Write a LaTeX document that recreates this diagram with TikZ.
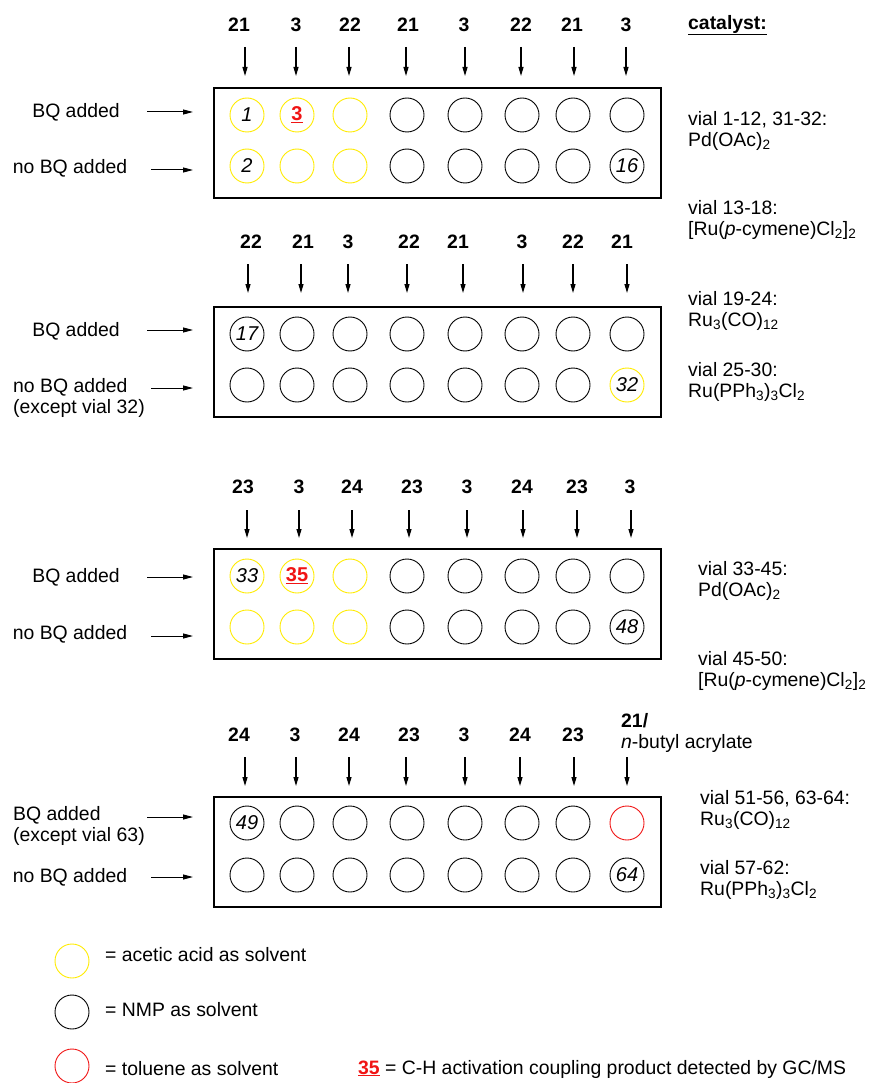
\documentclass[tikz,border=0pt]{standalone}
\usepackage{fontspec}
\setmainfont{Liberation Sans}
\usetikzlibrary{arrows.meta}
\definecolor{yellowc}{RGB}{255,235,0}
\definecolor{redc}{RGB}{240,20,20}
\newcommand{\redno}[1]{\textcolor{redc}{\bfseries\upshape\underline{#1}}}
\begin{document}
\begin{tikzpicture}[x=1pt,y=-1pt,
  every node/.style={font=\fontsize{19.4}{21}\selectfont, inner sep=0pt},
  num/.style={font=\fontsize{19.4}{21}\selectfont\bfseries},
  vial/.style={draw=black, circle, minimum size=34pt, line width=0.9pt, font=\fontsize{20}{21}\selectfont\itshape},
  yv/.style={vial, draw=yellowc},
  rv/.style={vial, draw=redc},
  kv/.style={vial},
  plate/.style={draw, line width=1.1pt, minimum width=447pt, minimum height=110pt},
  down/.style={-{Triangle[length=9pt,width=5pt]}, line width=1.2pt},
  feed/.style={-{Triangle[length=10pt,width=5pt]}, line width=1pt},
  two/.style={align=left, anchor=west},
]
\useasboundingbox (0,0) rectangle (870,1083);

% ---------------- block 1 ----------------
\node[plate] (p1) at (437.5,143) {};
\foreach \lx/\t/\ax [count=\i] in {239/21/245,296/3/296,350/22/349,408/21/406,464/3/465,521/22/521,572/21/574,626/3/626}{
  \node[num] (l1\i) at (\lx,25) {\t};
  \coordinate (s1\i) at (\ax,47); \coordinate (e1\i) at (\ax,76);
  \draw[down] (s1\i) -- (e1\i);
}
\foreach \x/\s/\t [count=\i] in {247/yv/1,297/yv/{\redno{3}},350/yv/{},407/kv/{},465/kv/{},522/kv/{},573/kv/{},627/kv/{}}
  \node[\s] (v1a\i) at (\x,115) {\t};
\foreach \x/\s/\t [count=\i] in {247/yv/2,297/yv/{},350/yv/{},407/kv/{},465/kv/{},522/kv/{},573/kv/{},627/kv/16}
  \node[\s] (v1b\i) at (\x,166) {\t};
\node (bq1) at (76,112) {BQ added};
\coordinate (h1s) at (147,112); \coordinate (h1e) at (193,112);
\draw[feed] (h1s) -- (h1e);
\node (nbq1) at (70,168) {no BQ added};
\coordinate (h2s) at (151,170); \coordinate (h2e) at (193,170);
\draw[feed] (h2s) -- (h2e);

% ---------------- block 2 ----------------
\node[plate] (p2) at (437.5,362) {};
\foreach \lx/\t/\ax [count=\i] in {251/22/248,303/21/301,348/3/348,409/22/407,458/21/463,522/3/523,573/22/573,622/21/627}{
  \node[num] (l2\i) at (\lx,242) {\t};
  \coordinate (s2\i) at (\ax,264); \coordinate (e2\i) at (\ax,293);
  \draw[down] (s2\i) -- (e2\i);
}
\foreach \x/\s/\t [count=\i] in {247/kv/17,297/kv/{},350/kv/{},407/kv/{},465/kv/{},522/kv/{},573/kv/{},627/kv/{}}
  \node[\s] (v2a\i) at (\x,334) {\t};
\foreach \x/\s/\t [count=\i] in {247/kv/{},297/kv/{},350/kv/{},407/kv/{},465/kv/{},522/kv/{},573/kv/{},627/yv/32}
  \node[\s] (v2b\i) at (\x,385) {\t};
\node (bq2) at (76,331) {BQ added};
\coordinate (h3s) at (147,330); \coordinate (h3e) at (193,330);
\draw[feed] (h3s) -- (h3e);
\node[two] (nbq2) at (13,398) {no BQ added\\(except vial 32)};
\coordinate (h4s) at (151,388); \coordinate (h4e) at (193,388);
\draw[feed] (h4s) -- (h4e);

% ---------------- block 3 ----------------
\node[plate] (p3) at (437.5,604) {};
\foreach \lx/\t/\ax [count=\i] in {243/23/247,299/3/299,352/24/352,412/23/409,467/3/467,522/24/523,577/23/577,630/3/631}{
  \node[num] (l3\i) at (\lx,487) {\t};
  \coordinate (s3\i) at (\ax,510); \coordinate (e3\i) at (\ax,538);
  \draw[down] (s3\i) -- (e3\i);
}
\foreach \x/\s/\t [count=\i] in {247/yv/33,297/yv/{\redno{35}},350/yv/{},407/kv/{},465/kv/{},522/kv/{},573/kv/{},627/kv/{}}
  \node[\s] (v3a\i) at (\x,576) {\t};
\foreach \x/\s/\t [count=\i] in {247/yv/{},297/yv/{},350/yv/{},407/kv/{},465/kv/{},522/kv/{},573/kv/{},627/kv/48}
  \node[\s] (v3b\i) at (\x,627) {\t};
\node (bq3) at (76,577) {BQ added};
\coordinate (h5s) at (147,577); \coordinate (h5e) at (193,577);
\draw[feed] (h5s) -- (h5e);
\node (nbq3) at (70,634) {no BQ added};
\coordinate (h6s) at (151,636); \coordinate (h6e) at (193,636);
\draw[feed] (h6s) -- (h6e);

% ---------------- block 4 ----------------
\node[plate] (p4) at (437.5,852) {};
\foreach \lx/\t/\ax [count=\i] in {239/24/245,295/3/296,349/24/349,409/23/406,464/3/465,520/24/520,573/23/574}{
  \node[num] (l4\i) at (\lx,735) {\t};
  \coordinate (s4\i) at (\ax,757); \coordinate (e4\i) at (\ax,786);
  \draw[down] (s4\i) -- (e4\i);
}
\node[two] (l48) at (621,733) {\textbf{21/}\\\textit{n}-butyl acrylate};
\coordinate (s48) at (627,757); \coordinate (e48) at (627,786);
\draw[down] (s48) -- (e48);
\foreach \x/\s/\t [count=\i] in {247/kv/49,297/kv/{},350/kv/{},407/kv/{},465/kv/{},522/kv/{},573/kv/{},627/rv/{}}
  \node[\s] (v4a\i) at (\x,823) {\t};
\foreach \x/\s/\t [count=\i] in {247/kv/{},297/kv/{},350/kv/{},407/kv/{},465/kv/{},522/kv/{},573/kv/{},627/kv/64}
  \node[\s] (v4b\i) at (\x,875) {\t};
\node[two] (bq4) at (13,826) {BQ added\\(except vial 63)};
\coordinate (h7s) at (147,817); \coordinate (h7e) at (193,817);
\draw[feed] (h7s) -- (h7e);
\node (nbq4) at (70,877) {no BQ added};
\coordinate (h8s) at (151,877); \coordinate (h8e) at (193,877);
\draw[feed] (h8s) -- (h8e);

% ---------------- catalysts ----------------
\node[anchor=west] (cat) at (688,25) {\textbf{\underline{catalyst:}}};
\node[two] (c1) at (688,131) {vial 1-12, 31-32:\\Pd(OAc)\textsubscript{2}};
\node[two] (c2) at (688,220) {vial 13-18:\\{[}Ru(\textit{p}-cymene)Cl\textsubscript{2}]\textsubscript{2}};
\node[two] (c3) at (688,311) {vial 19-24:\\Ru\textsubscript{3}(CO)\textsubscript{12}};
\node[two] (c4) at (688,382) {vial 25-30:\\Ru(PPh\textsubscript{3})\textsubscript{3}Cl\textsubscript{2}};
\node[two] (c5) at (698,581) {vial 33-45:\\Pd(OAc)\textsubscript{2}};
\node[two] (c6) at (698,671) {vial 45-50:\\{[}Ru(\textit{p}-cymene)Cl\textsubscript{2}]\textsubscript{2}};
\node[two] (c7) at (700,810) {vial 51-56, 63-64:\\Ru\textsubscript{3}(CO)\textsubscript{12}};
\node[two] (c8) at (700,880) {vial 57-62:\\Ru(PPh\textsubscript{3})\textsubscript{3}Cl\textsubscript{2}};

% ---------------- legend ----------------
\node[yv] (ly) at (72,961) {};
\node[anchor=west] (tly) at (105,955) {= acetic acid as solvent};
\node[kv] (lk) at (72,1012) {};
\node[anchor=west] (tlk) at (105,1010) {= NMP as solvent};
\node[rv] (lr) at (72,1066) {};
\node[anchor=west] (tlr) at (105,1069) {= toluene as solvent};
\node[anchor=west] (tnote) at (358,1069) {\redno{35} = C-H activation coupling product detected by GC/MS};
\end{tikzpicture}
\end{document}
